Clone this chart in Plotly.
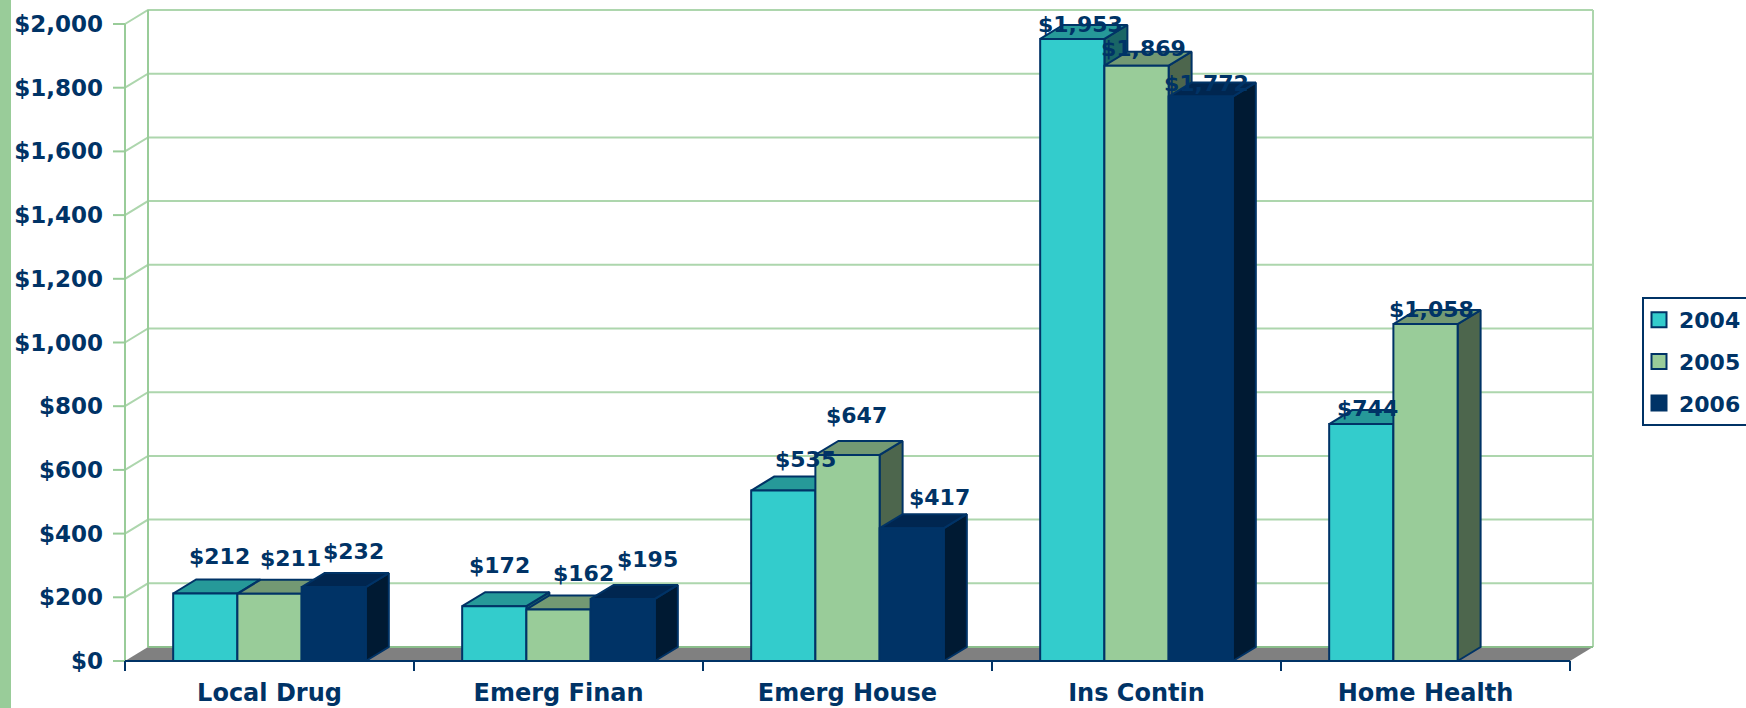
import plotly.graph_objects as go

categories = ["Local Drug", "Emerg Finan", "Emerg House", "Ins Contin", "Home Health"]
years = ["2004", "2005", "2006"]
values_2004 = [212, 172, 535, 1953, 744]
values_2005 = [211, 162, 647, 1869, 1058]
values_2006 = [232, 195, 417, 1772, None]
y_ticks = list(range(0, 2001, 200))

series = [values_2004, values_2005, values_2006]
front = ["#33CCCC", "#99CC99", "#003366"]
top = ["#269999", "#739973", "#002650"]
side = ["#1A6666", "#4D664D", "#001A33"]
NAVY = "#003366"
GREEN = "#99CC99"
GRID = "#ADD6AD"
FONT = "DejaVu Sans"

W, H = 1746, 708
PX_L, PX_FR, PX_BR = 125, 1570, 1593   # front-left, front-right, back-right
PX_FLOOR, PX_FTOP, PX_BTOP = 661, 24, 10
PAD_L, PAD_B, PAD = 12, 11, 3          # tick room left and below, line room elsewhere
cat_px = (PX_FR - PX_L) / len(categories)
val_px = (PX_FLOOR - PX_FTOP) / 2000
DX = (PX_BR - PX_FR) / cat_px
DY = (PX_FTOP - PX_BTOP) / val_px
BAR = 1 / 4.5
TICK_X = PAD_L / cat_px
TICK_Y = (PAD_B - 1) / val_px

# label shifts in px (right, up) from bar centre top
label_shift = [
    [(14, 37), (21, 35), (20, 36)],
    [(5, 41), (25, 36), (25, 39)],
    [(22, 31), (9, 39), (28, 31)],
    [(8, 14), (7, 17), (6, 13)],
    [(6, 16), (6, 15), None],
]

fig = go.Figure()


def poly(xs, ys, fill, color=None, width=0):
    fig.add_trace(go.Scatter(x=xs, y=ys, mode="lines", fill="toself", fillcolor=fill,
                             line=dict(color=color or fill, width=width),
                             showlegend=False, hoverinfo="skip"))


def line(xs, ys, color=GREEN, width=2):
    fig.add_trace(go.Scatter(x=xs, y=ys, mode="lines", line=dict(color=color, width=width),
                             showlegend=False, hoverinfo="skip"))


n = len(categories)
# gridlines, walls and value ticks
for v in y_ticks[1:]:
    line([0, DX, n + DX], [v, v + DY, v + DY], GRID)
for v in y_ticks:
    line([-TICK_X, 0], [v, v], GREEN)
line([0, 0], [0, 2000])
line([DX, DX], [DY, 2000 + DY])
line([n + DX, n + DX], [DY, 2000 + DY], GRID)
# floor
poly([0, DX, n + DX, n, 0], [0, DY, DY, 0, 0], "#808080")
line([DX, n + DX], [DY, DY], "#8CBF8C")
line([0, n], [0, 0], NAVY, 2)
for i in range(n + 1):
    line([i, i], [0, -TICK_Y], NAVY, 2)

annotations = []
for i in range(n):
    for k in range(3):
        v = series[k][i]
        if v is None:
            continue
        x0 = i + (1 - 3 * BAR) / 2 + k * BAR
        x1 = x0 + BAR
        poly([x1, x1 + DX, x1 + DX, x1, x1], [0, DY, v + DY, v, 0], side[k], NAVY, 2)
        poly([x0, x0 + DX, x1 + DX, x1, x0], [v, v + DY, v + DY, v, v], top[k], NAVY, 2)
        poly([x0, x1, x1, x0, x0], [0, 0, v, v, 0], front[k], NAVY, 2)
        sx, sy = label_shift[i][k]
        annotations.append(dict(x=(x0 + x1) / 2, y=v, xref="x", yref="y", text=f"${v:,}",
                                showarrow=False, xshift=sx, yshift=sy,
                                font=dict(family=FONT, size=22, color=NAVY, weight="bold")))

# legend entries
for k, yr in enumerate(years):
    fig.add_trace(go.Scatter(x=[None], y=[None], mode="markers", name=yr,
                             legendgroup=yr,
                             marker=dict(symbol="square", size=15, color=front[k],
                                         line=dict(color=NAVY, width=2))))

fig.update_layout(
    width=W, height=H, margin=dict(l=0, r=0, t=0, b=0, autoexpand=False),
    paper_bgcolor="white", plot_bgcolor="white",
    annotations=annotations,
    shapes=[dict(type="rect", xref="paper", yref="paper", x0=0, x1=11 / W, y0=0, y1=1,
                 fillcolor=GREEN, line_width=0, layer="below")],
    xaxis=dict(domain=[(PX_L - PAD_L) / W, (PX_BR + PAD) / W],
               range=[-PAD_L / cat_px, n + DX + PAD / cat_px],
               showgrid=False, zeroline=False, showline=False,
               tickmode="array", tickvals=[i + 0.5 for i in range(n)],
               ticktext=categories, ticks="", ticklabelstandoff=4,
               tickfont=dict(family=FONT, size=24, color=NAVY, weight="bold")),
    yaxis=dict(domain=[1 - (PX_FLOOR + PAD_B) / H, 1 - (PX_BTOP - PAD) / H],
               range=[-PAD_B / val_px, 2000 + DY + PAD / val_px], showgrid=False,
               zeroline=False, showline=False, tickmode="array", tickvals=y_ticks,
               ticktext=[f"${v:,}" for v in y_ticks], ticks="", ticklabelstandoff=9,
               tickfont=dict(family=FONT, size=23, color=NAVY, weight="bold")),
    legend=dict(x=1642 / W, xanchor="left", y=1 - 297 / H, yanchor="top", bgcolor="white",
                bordercolor=NAVY, borderwidth=2, tracegroupgap=10, traceorder="grouped",
                indentation=-5,
                font=dict(family=FONT, size=22, color=NAVY, weight="bold"), itemclick=False),
)

fig.write_html("out.html", config={"displayModeBar": False},
               post_script="document.body.style.margin='0';document.body.style.overflow='hidden';")
